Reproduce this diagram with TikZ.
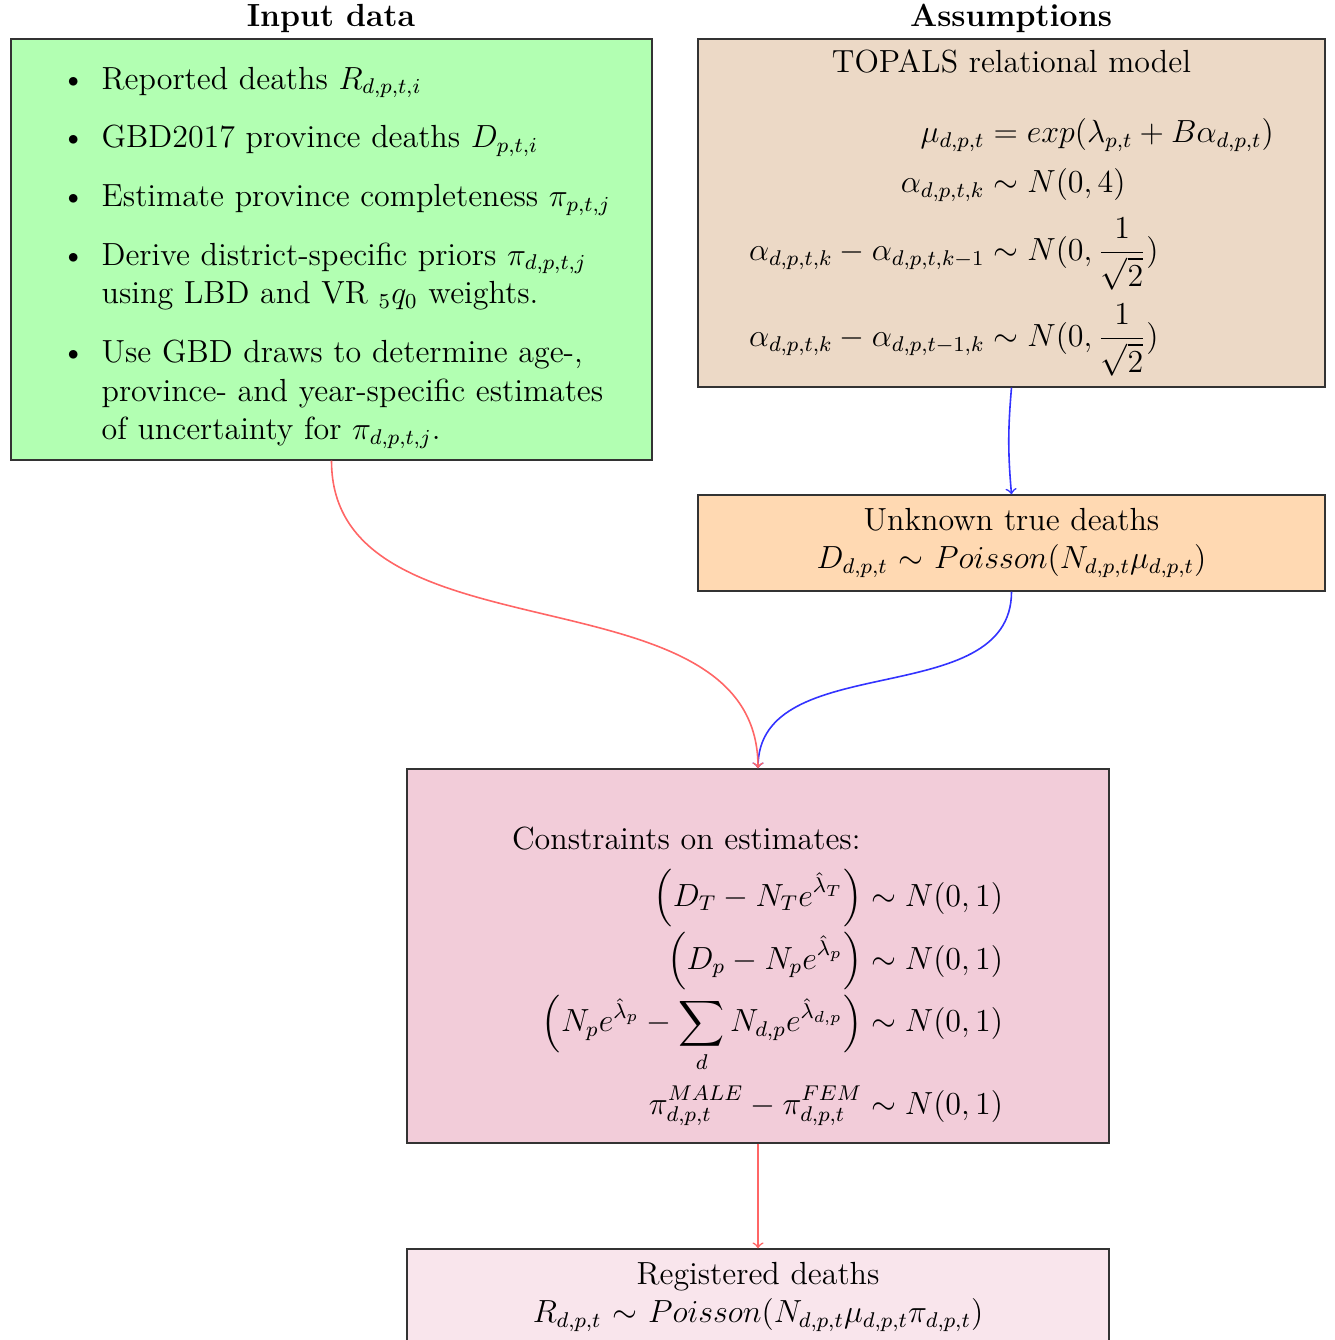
\documentclass[12pt,tikz,border=0pt]{standalone}
\usepackage{amsmath}

\tikzstyle{box}=[draw=black!80, line width=0.5pt, inner sep=0pt]
\tikzstyle{input box}=[box, fill=green!30, inner xsep=4pt, text width=232.4pt, minimum height=157.9pt, align=left]
\tikzstyle{model box}=[box, fill=brown!30, text width=235.1pt, minimum height=130.5pt, align=center]
\tikzstyle{latent box}=[box, fill=orange!30, text width=235.1pt, minimum height=36pt, align=center]
\tikzstyle{constraint box}=[box, fill=purple!20, text width=263.25pt, minimum height=140.25pt, align=left]
\tikzstyle{observed box}=[box, fill=purple!10, text width=263.25pt, minimum height=36pt, align=center]
\tikzstyle{heading}=[font=\bfseries, anchor=base]
\tikzstyle{red link}=[->, semithick, red!60]
\tikzstyle{blue link}=[->, semithick, blue!80]

\begin{document}
\begin{tikzpicture}[x=0.375pt, y=-0.375pt]
	\useasboundingbox (0,0) rectangle (1335,1340);

	% Column headings
	\node[heading] (inputtitle) at (331,27) {Input data};
	\node[heading] (assumptionstitle) at (1011,27) {Assumptions};

	% Input data
	\node[input box] (input) at (331.5,249.5) {
		\begin{list}{\textbullet}{\setlength{\topsep}{0pt}\setlength{\partopsep}{0pt}\setlength{\itemsep}{7.5pt}\setlength{\parsep}{0pt}}
			\item Reported deaths $R_{d,p,t,i}$
			\item GBD2017 province deaths $D_{p,t,i}$
			\item Estimate province completeness $\pi_{p,t,j}$
			\item Derive district-specific priors $\pi_{d,p,t,j}$\\ using LBD and VR ${}_5q_0$ weights.
			\item Use GBD draws to determine age-,\\ province- and year-specific estimates\\ of uncertainty for $\pi_{d,p,t,j}$.
		\end{list}
	};

	% Assumptions
	\node[model box] (topals) at (1011.5,213) {
		\setlength{\jot}{4.2pt}%
		TOPALS relational model\\[15pt]
		$\begin{aligned}
			\mu_{d,p,t} &= exp(\lambda_{p,t}+B\alpha_{d,p,t})\\
			\alpha_{d,p,t,k} &\sim N(0,4)\\
			\alpha_{d,p,t,k}-\alpha_{d,p,t,k-1} &\sim N(0,\frac{1}{\sqrt{2}})\\
			\alpha_{d,p,t,k}-\alpha_{d,p,t-1,k} &\sim N(0,\frac{1}{\sqrt{2}})
		\end{aligned}$
	};
	\node[latent box] (unknown) at (1011.5,543) {
		Unknown true deaths\\
		$D_{d,p,t}$ $\sim$ $Poisson(N_{d,p,t}\mu_{d,p,t})$
	};

	% Constraints and observed data
	\node[constraint box] (constraints) at (758,956) {
		\setlength{\jot}{1pt}%
		\rule{0pt}{24pt}\hspace*{39.4pt}Constraints on estimates:\\[6pt]
		\hspace*{\fill}$\begin{aligned}
			\Big(D_T-N_Te^{\hat{\lambda}_T}\Big) &\sim N(0,1)\\
			\Big(D_p-N_pe^{\hat{\lambda}_p}\Big) &\sim N(0,1)\\
			\Big(N_pe^{\hat{\lambda}_p}-\sum_d N_{d,p}e^{\hat{\lambda}_{d,p}}\Big) &\sim N(0,1)\\[3pt]
			\pi^{MALE}_{d,p,t}-\pi^{FEM}_{d,p,t} &\sim N(0,1)
		\end{aligned}$\hspace*{39.75pt}
	};
	\node[observed box] (registered) at (758,1297) {
		Registered deaths\\
		$R_{d,p,t}$ $\sim$ $Poisson(N_{d,p,t}\mu_{d,p,t}\pi_{d,p,t})$
	};

	% Links
	\draw[blue link] (topals.south) to[out=-95,in=95] (unknown.north);
	\draw[blue link] (unknown.south) to[out=-90,in=90] (constraints.north);
	\draw[red link] (input.south) to[out=-90,in=90] (constraints.north);
	\draw[red link] (constraints.south) -- (registered.north);
\end{tikzpicture}
\end{document}
